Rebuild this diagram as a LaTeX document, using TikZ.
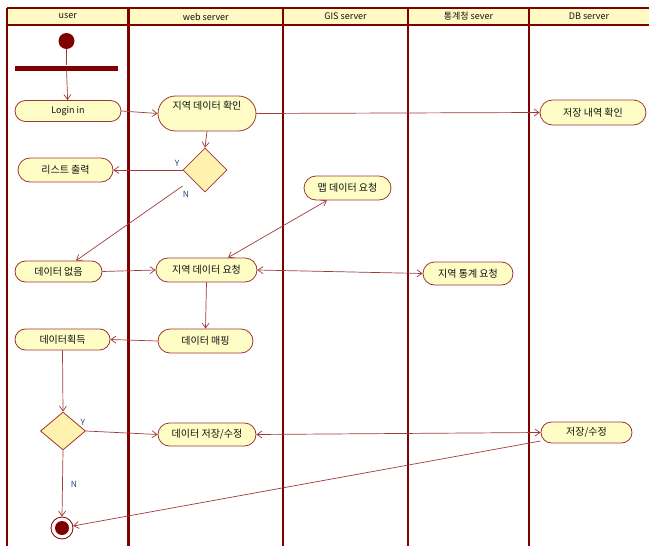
\documentclass[tikz,border=0pt]{standalone}
\usepackage{fontspec}
\setmainfont{Noto Sans CJK KR}
\usetikzlibrary{shapes.misc,shapes.geometric,arrows.meta}

\definecolor{laneline}{HTML}{800000}
\definecolor{headfill}{HTML}{FFF9C4}
\definecolor{actfill}{HTML}{FFFDC6}
\definecolor{actedge}{HTML}{A03535}
\definecolor{decfill}{HTML}{FFF2AE}
\definecolor{flow}{HTML}{9E3A3A}
\definecolor{guard}{HTML}{2B4A78}
\definecolor{inktext}{HTML}{111111}

\tikzset{
  act/.style={rounded rectangle, draw=actedge, fill=actfill, line width=0.8pt,
    inner sep=0pt, text=inktext, font=\fontsize{10}{12}\selectfont},
  latinact/.style={act, font=\fontsize{9}{11}\selectfont},
  decision/.style={diamond, draw=actedge, fill=decfill, line width=0.8pt,
    inner sep=0pt, minimum width=44pt, minimum height=44pt},
  flowline/.style={draw=flow, line width=0.7pt},
  flowarrow/.style={flowline, -{Straight Barb[length=5pt,width=7pt]}},
  flowboth/.style={flowline, {Straight Barb[length=5pt,width=7pt]}-{Straight Barb[length=5pt,width=7pt]}},
  guardlabel/.style={text=guard, font=\fontsize{8.5}{10}\selectfont, inner sep=0pt},
  lanehead/.style={text=inktext, font=\fontsize{9}{11}\selectfont, inner sep=0pt},
}

\begin{document}
\begin{tikzpicture}[x=1pt,y=-1pt]
\useasboundingbox (0,0) rectangle (649,546);

% swimlane header strip and separators
\fill[headfill] (7,8) rectangle (650,25);
\draw[laneline, line width=1.2pt] (650,8) -- (7,8) (7,25) -- (650,25);
\foreach \lx in {7,128.5,283,408,529}
  \draw[laneline, line width=2.2pt] (\lx,8) -- (\lx,546);

\node[lanehead] (hUser) at (67.75,16.5) {user};
\node[lanehead] (hWeb)  at (205.75,16.5) {web server};
\node[lanehead] (hGis)  at (345.5,16.5) {GIS server};
\node[lanehead] (hStat) at (468.5,16.5) {통계청 sever};
\node[lanehead] (hDb)   at (589,16.5) {DB server};

% initial node and fork bar
\node[circle, fill=laneline, inner sep=0pt, minimum size=16pt] (start) at (66.5,41) {};
\node[rectangle, fill=laneline, inner sep=0pt, minimum width=103pt, minimum height=5pt] (bar) at (66.5,68) {};

% activities
\node[latinact, minimum width=106pt, minimum height=21pt] (login) at (68,111) {Login in};
\node[act, minimum width=98pt,  minimum height=35pt, text height=7.5pt, text depth=15pt] (regchk) at (207,113.5) {지역 데이터 확인};
\node[act, minimum width=106pt, minimum height=25pt] (dbchk)   at (593,112.5) {저장 내역 확인};
\node[decision] (d1) at (205,170) {};
\node[act, minimum width=95pt,  minimum height=24pt] (list)    at (65.5,170)  {리스트 출력};
\node[act, minimum width=87pt,  minimum height=24pt] (mapreq)  at (347.5,188) {맵 데이터 요청};
\node[act, minimum width=87pt,  minimum height=21pt] (nodata)  at (58.5,271.5) {데이터 없음};
\node[act, minimum width=101pt, minimum height=24pt] (regreq)  at (206.5,270) {지역 데이터 요청};
\node[act, minimum width=90pt,  minimum height=23pt] (statreq) at (468,273.5) {지역 통계 요청};
\node[act, minimum width=95pt,  minimum height=24pt] (mapping) at (205.5,341) {데이터 매핑};
\node[act, minimum width=95pt,  minimum height=21pt] (acquire) at (62.5,339.5) {데이터획득};
\node[decision, minimum width=45pt, minimum height=38pt] (d2) at (63,431) {};
\node[act, minimum width=98pt,  minimum height=23pt] (save)    at (207,434.5) {데이터 저장/수정};
\node[act, minimum width=91pt,  minimum height=21pt] (dbsave)  at (586.5,432.5) {저장/수정};

% final node
\node[circle, draw=laneline, line width=0.8pt, fill=white, inner sep=0pt, minimum size=22pt] (end) at (62,528) {};
\node[circle, fill=laneline, inner sep=0pt, minimum size=14pt] (endDot) at (end.center) {};

% control flow
\draw[flowline]  (start) -- (bar);
\draw[flowarrow] (bar) -- (login);
\draw[flowarrow] (login.east) -- (regchk.west);
\draw[flowarrow] (regchk.east) -- (dbchk.west);
\draw[flowarrow] (regchk.south) -- (d1.north);
\draw[flowarrow] (d1.west) -- node[guardlabel, pos=0.08, above=3pt] (y1) {Y} (list.east);
\draw[flowarrow] ([yshift=-16pt]d1.west) -- ([xshift=17.5pt]nodata.north);
\node[guardlabel] (n1) at (186,194) {N};
\draw[flowarrow] (nodata.east) -- (regreq.west);
\draw[flowboth]  ([xshift=21.5pt]regreq.north) -- ([xshift=-20.5pt]mapreq.south);
\draw[flowboth]  (regreq.east) -- (statreq.west);
\draw[flowarrow] (regreq.south) -- (mapping.north);
\draw[flowarrow] (mapping.west) -- (acquire.east);
\draw[flowarrow] (acquire.south) -- (d2.north);
\draw[flowarrow] (d2.east) -- (save.west);
\node[guardlabel] (y2) at (83,422) {Y};
\draw[flowboth]  (save.east) -- (dbsave.west);
\draw[flowarrow] ([yshift=-8.5pt]dbsave.west) -- (end);
\draw[flowarrow] (d2.south) -- (end.north);
\node[guardlabel] (n2) at (74,484) {N};
\end{tikzpicture}
\end{document}
